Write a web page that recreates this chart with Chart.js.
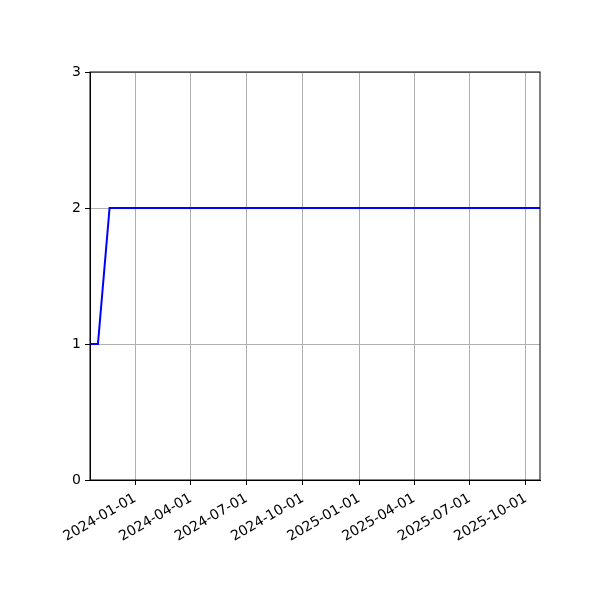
<!DOCTYPE html>
<html>
<head>
<meta charset="utf-8">
<script src="https://cdn.jsdelivr.net/npm/chart.js@4"></script>
<style>
  html, body { margin: 0; padding: 0; background: #fff; }
  #wrap { width: 600px; height: 600px; }
</style>
</head>
<body>
<div id="wrap"><canvas id="chart" width="600" height="600"></canvas></div>
<script>
// data
const dates = ['2023-10-19', '2023-11-01', '2023-11-20', '2025-10-24'];
const values = [1, 1, 2, 2];
const xTickDates = ['2024-01-01', '2024-04-01', '2024-07-01', '2024-10-01',
                    '2025-01-01', '2025-04-01', '2025-07-01', '2025-10-01'];
const yTicks = [0, 1, 2, 3];

const toMs = s => Date.parse(s + 'T00:00:00Z');
const points = dates.map((d, i) => ({ x: toMs(d), y: values[i] }));

// top and right spines
const frame = {
    id: 'frame',
    afterDraw(chart) {
        const a = chart.chartArea, c = chart.ctx;
        c.save();
        c.strokeStyle = '#000';
        c.lineWidth = 1;
        c.strokeRect(a.left, a.top, a.right - a.left, a.bottom - a.top);
        c.restore();
    }
};

new Chart(document.getElementById('chart').getContext('2d'), {
    type: 'line',
    data: {
        datasets: [{
            data: points,
            borderColor: '#0000ff',
            borderWidth: 2,
            pointRadius: 0,
            tension: 0,
            fill: false
        }]
    },
    options: {
        responsive: false,
        animation: false,
        layout: { padding: { left: 0, top: 72, right: 60, bottom: 0 } },
        plugins: { legend: { display: false }, tooltip: { enabled: false } },
        scales: {
            x: {
                type: 'linear',
                min: toMs(dates[0]),
                max: toMs(dates[dates.length - 1]),
                afterBuildTicks: s => { s.ticks = xTickDates.map(d => ({ value: toMs(d) })); },
                afterFit: s => { s.height = 120; },
                grid: { color: '#b0b0b0', lineWidth: 1, tickLength: 5, tickColor: '#000' },
                border: { color: '#000' },
                ticks: {
                    autoSkip: false,
                    minRotation: 30,
                    maxRotation: 30,
                    padding: 5,
                    color: '#000',
                    font: { family: 'DejaVu Sans', size: 14 },
                    callback: v => new Date(v).toISOString().slice(0, 10)
                }
            },
            y: {
                min: 0,
                max: 3,
                afterBuildTicks: s => { s.ticks = yTicks.map(v => ({ value: v })); },
                afterFit: s => { s.width = 90; },
                grid: { color: '#b0b0b0', lineWidth: 1, tickLength: 5, tickColor: '#000' },
                border: { color: '#000' },
                ticks: {
                    padding: 4,
                    color: '#000',
                    font: { family: 'DejaVu Sans', size: 14 }
                }
            }
        }
    },
    plugins: [frame]
});
</script>
</body>
</html>
